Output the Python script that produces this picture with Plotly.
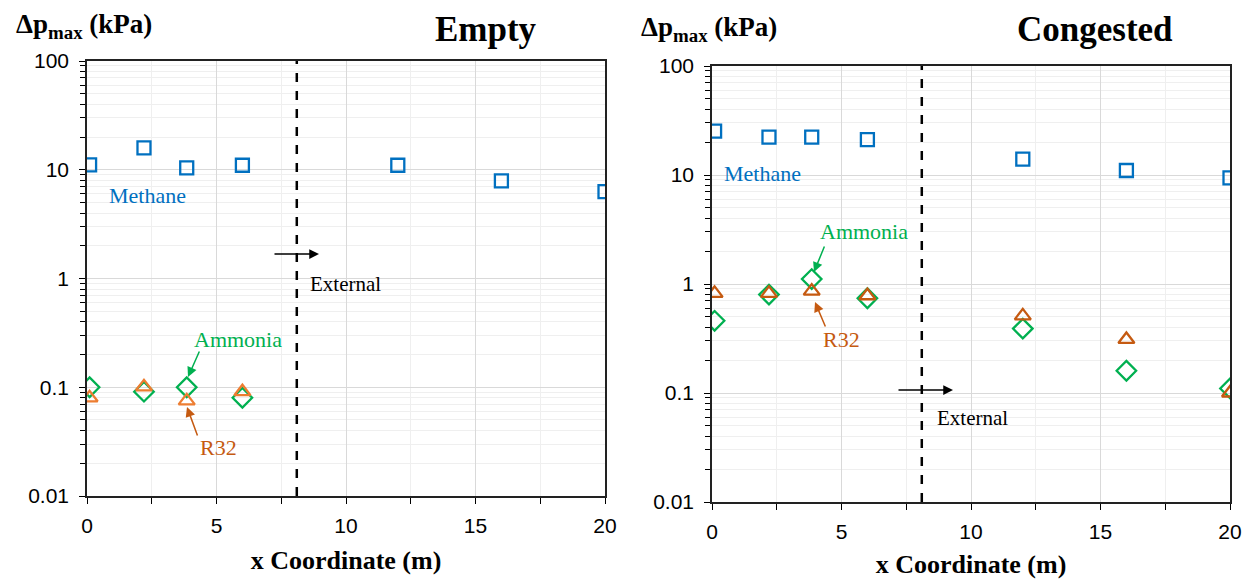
import plotly.graph_objects as go

# ---------------- data ----------------
x_pos = [0.1, 2.2, 3.85, 6, 12, 16, 20]
x_near = [0.1, 2.2, 3.85, 6]

empty_methane = [11.1, 15.9, 10.4, 11.0, 11.0, 7.9, 6.3]
empty_ammonia = [0.100, 0.091, 0.100, 0.080]
empty_r32 = [0.080, 0.101, 0.075, 0.091]

cong_methane = [25.3, 22.3, 22.3, 21.1, 14.0, 11.0, 9.4]
cong_ammonia = [0.46, 0.80, 1.11, 0.74, 0.39, 0.16, 0.11]
cong_r32 = [0.82, 0.82, 0.86, 0.78, 0.51, 0.31, 0.10]

external_x = 8.1
y_tickvals = [0.01, 0.1, 1, 10, 100]
y_ticktext = ["0.01", "0.1", "1", "10", "100"]
x_tickvals = [0, 5, 10, 15, 20]

BLUE = "#0070C0"
GREEN = "#00B050"
ORANGE_L = "#ED7D31"
ORANGE_R = "#C55A11"
SERIF = "Liberation Serif, Times New Roman, serif"
SANS = "Liberation Sans, Arial, sans-serif"

# page has an 8px body margin; figure sized to fit the window
OFF = 8
W, H = 1251 - OFF, 579 - OFF


def px(xp, yp):
    return (xp - OFF) / W, 1 - (yp - OFF) / H


def xdom(a, b):
    return [(a - OFF) / W, (b - OFF) / W]


def ydom(top, bottom):
    return [1 - (bottom - OFF) / H, 1 - (top - OFF) / H]


fig = go.Figure()


def add_series(x, y, xa, ya, symbol, color, size):
    fig.add_trace(go.Scatter(
        x=x, y=y, mode="markers", xaxis=xa, yaxis=ya, showlegend=False,
        marker=dict(symbol=symbol, size=size, color=color,
                    line=dict(color=color, width=2.3)),
    ))


add_series(x_pos, empty_methane, "x", "y", "square-open", BLUE, 13)
add_series(x_near, empty_ammonia, "x", "y", "diamond-open", GREEN, 15)
add_series(x_near, empty_r32, "x", "y", "triangle-up-open", ORANGE_L, 14)

add_series(x_pos, cong_methane, "x2", "y2", "square-open", BLUE, 13)
add_series(x_pos, cong_ammonia, "x2", "y2", "diamond-open", GREEN, 15)
add_series(x_pos, cong_r32, "x2", "y2", "triangle-up-open", ORANGE_R, 14)

xcommon = dict(range=[0, 20], tickvals=x_tickvals, ticks="outside", ticklen=6,
               tickcolor="black", showline=True, linecolor="#222", linewidth=1.5,
               mirror=True, showgrid=True, gridcolor="#d9d9d9", gridwidth=1,
               zeroline=False, automargin=False, ticklabelstandoff=4,
               minor=dict(dtick=2.5, tick0=0, ticks="outside", ticklen=6,
                          tickcolor="black", showgrid=True, gridcolor="#efefef"),
               tickfont=dict(family=SANS, size=21, color="black"),
               title=dict(text="<b>x Coordinate (m)</b>",
                          font=dict(family=SERIF, size=26, color="black"),
                          standoff=15))
ycommon = dict(type="log", range=[-2, 2], tickvals=y_tickvals, ticktext=y_ticktext,
               ticks="outside", ticklen=6, tickcolor="black", showline=True,
               linecolor="#222", linewidth=1.5, mirror=True, showgrid=True,
               gridcolor="#d9d9d9", zeroline=False, automargin=False,
               ticklabelstandoff=6,
               minor=dict(dtick="D1", ticks="outside", ticklen=5, tickcolor="black",
                          showgrid=True, gridcolor="#efefef"),
               tickfont=dict(family=SANS, size=21, color="black"))

fig.update_layout(
    width=W, height=H, margin=dict(l=0, r=0, t=0, b=0, autoexpand=False),
    plot_bgcolor="white", paper_bgcolor="white",
    xaxis=dict(domain=xdom(87, 605), anchor="y", **xcommon),
    yaxis=dict(domain=ydom(61, 496), anchor="x", **ycommon),
    xaxis2=dict(domain=xdom(712, 1230), anchor="y2", **xcommon),
    yaxis2=dict(domain=ydom(66, 502), anchor="x2", **ycommon),
)

for xa, ya in [("x", "y"), ("x2", "y2")]:
    fig.add_shape(type="line", x0=external_x, x1=external_x, y0=0, y1=1,
                  xref=xa, yref=f"{ya} domain",
                  line=dict(color="black", width=2.5, dash="dash"))


def text(x, y, s, color, size=22, bold=False, yanchor="middle"):
    fig.add_annotation(x=x, y=y, xref="paper", yref="paper",
                       xanchor="center", yanchor=yanchor,
                       text=f"<b>{s}</b>" if bold else s,
                       showarrow=False, font=dict(family=SERIF, size=size, color=color))


def arrow(x, y, ax, ay, color):
    fig.add_annotation(x=x, y=y, xref="paper", yref="paper", ax=ax, ay=ay,
                       axref="pixel", ayref="pixel", text="", showarrow=True,
                       arrowhead=2, arrowsize=1.3, arrowwidth=1.5, arrowcolor=color)


# titles (top-anchored at the page top so the text box stays inside)
text(*px(486, 8), "Empty", "black", size=35, bold=True, yanchor="top")
text(*px(1095, 8), "Congested", "black", size=35, bold=True, yanchor="top")
text(*px(84, 26), "Δp<sub>max</sub> (kPa)", "black", size=27, bold=True)
text(*px(709, 29), "Δp<sub>max</sub> (kPa)", "black", size=27, bold=True)

# left panel annotations
text(*px(147, 195), "Methane", BLUE)
text(*px(238, 339), "Ammonia", GREEN)
arrow(*px(188, 377), 12, -27, GREEN)
text(*px(219, 448), "R32", ORANGE_R)
arrow(*px(187, 407), 11, 30, ORANGE_R)
text(*px(345, 284), "External", "black", size=21)
arrow(*px(319, 254), -46, 0, "black")

# right panel annotations
text(*px(762, 173), "Methane", BLUE)
text(*px(864, 231), "Ammonia", GREEN)
arrow(*px(814, 272), 11, -27, GREEN)
text(*px(841, 339), "R32", ORANGE_R)
arrow(*px(815, 302), 11, 26, ORANGE_R)
text(*px(972, 418), "External", "black", size=21)
arrow(*px(953, 390), -56, 0, "black")

fig.write_html("out.html")
